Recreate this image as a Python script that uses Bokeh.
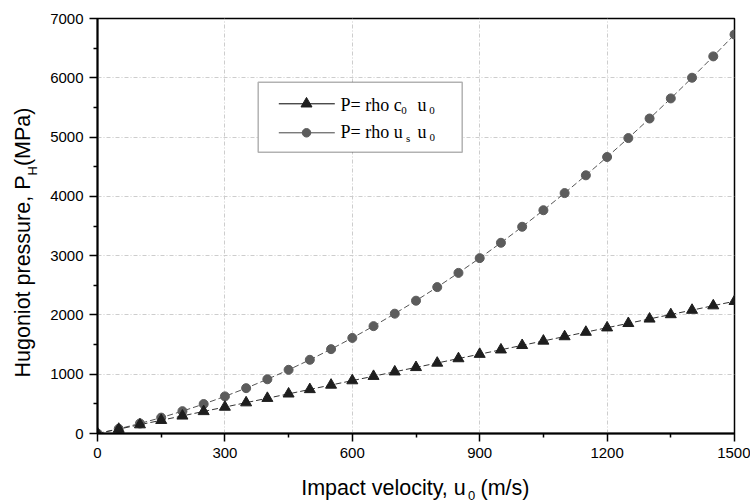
import math
from bokeh.plotting import figure
from bokeh.layouts import column, row
from bokeh.models import FixedTicker, Range1d, Label, BoxAnnotation, ColumnDataSource
from bokeh.embed import file_html
from bokeh.resources import INLINE

# ---------------- data ----------------
impact_velocity = [0, 50, 100, 150, 200, 250, 300, 350, 400, 450, 500, 550,
                   600, 650, 700, 750, 800, 850, 900, 950, 1000, 1050, 1100,
                   1150, 1200, 1250, 1300, 1350, 1400, 1450, 1500]
p_rho_c0_u0 = [0, 74, 149, 223, 297, 372, 446, 520, 595, 669, 743, 818, 892,
               966, 1041, 1115, 1189, 1264, 1338, 1412, 1487, 1561, 1635,
               1710, 1784, 1858, 1933, 2007, 2081, 2156, 2230]
p_rho_us_u0 = [0, 79, 169, 268, 377, 497, 626, 765, 915, 1074, 1243, 1423,
               1612, 1811, 2021, 2240, 2469, 2709, 2958, 3217, 3487, 3766,
               4055, 4355, 4664, 4983, 5313, 5652, 6001, 6361, 6730]
x_major_ticks = [0, 300, 600, 900, 1200, 1500]
x_minor_ticks = [150, 450, 750, 1050, 1350]
y_major_ticks = [0, 1000, 2000, 3000, 4000, 5000, 6000, 7000]
y_minor_ticks = [500, 1500, 2500, 3500, 4500, 5500, 6500]

# ---------------- layout (page pixels) ----------------
W, H = 750, 502
YT_W = 45            # width of the strip holding the y title
XT_H = 32            # height of the strip holding the x title
MAIN_W, MAIN_H = W - YT_W, H - XT_H
FL, FR, FT, FB = 97, 734, 18, 433     # frame edges (page px)
X0, X1, Y0, Y1 = 0, 1500, 0, 7000

SERIF = "Liberation Serif"
SANS = "Liberation Sans"
# labels are anchored at the centre of their text box: distance from that
# centre down to the alphabetic baseline, as a fraction of the font size
K = {SANS: 0.3465, SERIF: 0.3375}

p = figure(width=MAIN_W, height=MAIN_H, output_backend="svg",
           toolbar_location=None, title_location=None,
           x_range=Range1d(X0, X1), y_range=Range1d(Y0, Y1),
           min_border_left=FL - YT_W, min_border_right=W - FR,
           min_border_top=FT, min_border_bottom=MAIN_H - FB)
p.background_fill_color = "white"
p.border_fill_color = "white"
p.outline_line_color = "black"
p.outline_line_width = 1.5

def dx(px):
    return X0 + (px - FL) / (FR - FL) * (X1 - X0)

def dy(py):
    return Y0 + (FB - py) / (FB - FT) * (Y1 - Y0)

for ax, maj, mnr in ((p.xaxis, x_major_ticks, x_minor_ticks),
                     (p.yaxis, y_major_ticks, y_minor_ticks)):
    ax.ticker = FixedTicker(ticks=maj, minor_ticks=mnr)
    ax.axis_line_width = 2
    ax.axis_line_color = "black"
    ax.major_tick_out = 8
    ax.major_tick_in = 0
    ax.minor_tick_out = 4
    ax.minor_tick_in = 0
    ax.major_tick_line_width = 1.5
    ax.minor_tick_line_width = 1.5
    ax.major_tick_line_color = "black"
    ax.minor_tick_line_color = "black"
    ax.major_label_text_font = SANS
    ax.major_label_text_font_size = "15px"
    ax.major_label_text_color = "black"
    ax.axis_label = None
p.xaxis.major_label_standoff = 6
p.yaxis.major_label_standoff = 6

for g in (p.xgrid, p.ygrid):
    g.grid_line_color = "#cdcdcd"
    g.grid_line_dash = "4 2 1 2"
    g.grid_line_width = 1

# ---------------- series ----------------
src = ColumnDataSource(dict(u=impact_velocity, pc=p_rho_c0_u0, ps=p_rho_us_u0))
p.line("u", "ps", source=src, line_color="#555555", line_width=1,
       line_dash="6 3")
p.line("u", "pc", source=src, line_color="#333333", line_width=1,
       line_dash="6 3")
p.scatter("u", "ps", source=src, marker="circle", size=9,
          fill_color="#5c5c5c", line_color="#5c5c5c")
p.scatter("u", "pc", source=src, marker="triangle", size=11,
          fill_color="#1e1e1e", line_color="#1e1e1e")

# ---------------- legend (manual, for subscripts) ----------------
box = BoxAnnotation(left=dx(257.7), right=dx(461.7), top=dy(81.7),
                    bottom=dy(151.7), fill_color="white", fill_alpha=1,
                    line_color="black", line_width=1.5)
p.add_layout(box)

rows = [(103.3, "triangle", 11, "#1e1e1e", "#000000"),
        (132.3, "circle", 8.5, "#5c5c5c", "#444444")]
for yy, mk, sz, col, lcol in rows:
    r1 = p.line([dx(278.3), dx(334.3)], [dy(yy), dy(yy)], line_color=lcol,
                line_width=1)
    r1.level = "overlay"
    r2 = p.scatter([dx(306)], [dy(yy)], marker=mk, size=sz, fill_color=col,
                   line_color=col)
    r2.level = "overlay"

def lpiece(text, px, base_py, size):
    p.add_layout(Label(x=dx(px), y=dy(base_py - K[SERIF] * size), text=text,
                       text_font=SERIF, text_font_size=f"{size}px",
                       text_color="black", text_align="left",
                       text_baseline="middle"))

# legend row 1: P= rho c0 u0
lpiece("P= rho c", 340, 110.5, 18)
lpiece("0", 400.7, 114, 11)
lpiece("u", 417, 110.5, 18)
lpiece("0", 428.7, 114, 11)
# legend row 2: P= rho us u0
lpiece("P= rho u", 340, 137.5, 18)
lpiece("s", 405.5, 141, 11)
lpiece("u", 417, 137.5, 18)
lpiece("0", 429, 141, 11)

# ---------------- axis titles (with subscripts), in side strips ----------
def strip(w, h, top=0, bottom=0, yr=None):
    f = figure(width=w, height=h, output_backend="svg", toolbar_location=None,
               title_location=None,
               x_range=Range1d(0, w),
               y_range=yr if yr is not None else Range1d(h, 0),
               x_axis_location=None, y_axis_location=None,
               min_border=0, min_border_left=0, min_border_right=0,
               min_border_top=top, min_border_bottom=bottom)
    f.outline_line_color = None
    f.grid.visible = False
    f.background_fill_color = "white"
    f.border_fill_color = "white"
    return f

# the y strip's frame lines up with the main frame, so use page px there
yt = strip(YT_W, MAIN_H, top=FT, bottom=MAIN_H - FB, yr=Range1d(FB, FT))
xt = strip(W, XT_H)

def tpiece(fig, text, px, base_py, size):
    # horizontal text: px = left edge, base_py = baseline (strip pixels)
    fig.add_layout(Label(x=px, y=base_py - K[SANS] * size, text=text,
                         text_font=SANS, text_font_size=f"{size}px",
                         text_color="black", text_align="left",
                         text_baseline="middle"))

def rpiece(fig, text, base_px, start_py, size):
    # text rotated 90 deg: base_px = baseline x, start_py = start of the text
    fig.add_layout(Label(x=base_px - K[SANS] * size, y=start_py, text=text,
                         text_font=SANS, text_font_size=f"{size}px",
                         text_color="black", text_align="left",
                         text_baseline="middle", angle=math.pi / 2))

# x title: "Impact velocity, u0 (m/s)"  (page y minus MAIN_H)
tpiece(xt, "Impact velocity, u", 300.7, 494.5 - MAIN_H, 21.5)
tpiece(xt, "0", 467.5, 499.5 - MAIN_H, 13)
tpiece(xt, "(m/s)", 480, 494.5 - MAIN_H, 21.5)

# y title: "Hugoniot pressure, PH (MPa)"  (page px)
rpiece(yt, "Hugoniot pressure, P", 30, 377, 21.5)
rpiece(yt, "H", 37, 175, 13)
rpiece(yt, " (MPa)", 30, 165.6, 21.5)

layout = column(row(yt, p, spacing=0), xt, spacing=0)
open("out.html", "w").write(file_html(layout, INLINE))
